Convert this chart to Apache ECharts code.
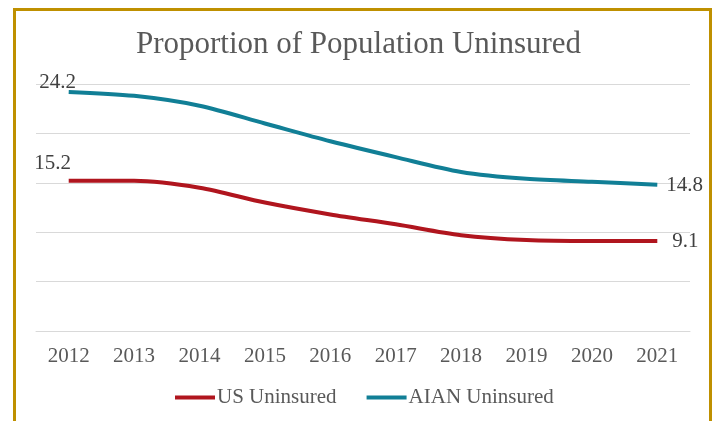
<!DOCTYPE html>
<html><head><meta charset="utf-8">
<script src="https://cdn.jsdelivr.net/npm/echarts@6/dist/echarts.min.js"></script>
<style>
html,body{margin:0;padding:0;background:#fff;overflow:hidden;}
#chart{position:absolute;left:0;top:0;width:717px;height:421px;}
#frame{position:absolute;left:13px;top:8px;width:693px;height:440px;border:3px solid #BF9000;pointer-events:none;}
</style></head>
<body>
<div id="chart"></div>
<div id="frame"></div>
<script>
const years = ['2012','2013','2014','2015','2016','2017','2018','2019','2020','2021'];
const usUninsured = [15.2, 15.2, 14.5, 13.0, 11.8, 10.8, 9.7, 9.2, 9.1, 9.1];
const aianUninsured = [24.2, 23.8, 22.8, 21.0, 19.2, 17.6, 16.1, 15.4, 15.1, 14.8];
const titleText = 'Proportion of Population Uninsured';

const font = '"Liberation Serif","Times New Roman",serif';
function labeled(arr, firstOffset, lastOffset) {
  return arr.map((v, i) => {
    if (i === 0) return {value: v, label: {show: true, position: 'top', offset: firstOffset}};
    if (i === arr.length - 1) return {value: v, label: {show: true, position: 'right', distance: 8, offset: lastOffset}};
    return v;
  });
}
const chart = echarts.init(document.getElementById('chart'));
chart.setOption({
  animation: false,
  title: {text: titleText, left: 'center', top: 24,
    textStyle: {fontFamily: font, fontWeight: 'normal', fontSize: 31, color: '#595959'}},
  grid: {left: 36, right: 27, top: 84, bottom: 90},
  legend: {bottom: 8, left: 170, itemWidth: 40, itemHeight: 4, itemGap: 30, icon: 'rect',
    textStyle: {fontFamily: font, fontSize: 21, color: '#595959', padding: [0,0,0,-3]},
    data: ['US Uninsured', 'AIAN Uninsured']},
  xAxis: {type: 'category', data: years, boundaryGap: true,
    axisLine: {show: true, lineStyle: {color: '#D9D9D9'}}, axisTick: {show: false},
    axisLabel: {fontFamily: font, fontSize: 21, color: '#595959', margin: 15}},
  yAxis: {type: 'value', min: 0, max: 25, interval: 5,
    axisLabel: {show: false}, axisLine: {show: false}, axisTick: {show: false},
    splitLine: {lineStyle: {color: '#D9D9D9', width: 1}}},
  series: [
    {name: 'US Uninsured', type: 'line', smooth: 0.3, symbol: 'circle', symbolSize: 0, showSymbol: true,
      data: labeled(usUninsured, [-16, -2], [7, 0]),
      lineStyle: {width: 4, color: '#B0151E'}, itemStyle: {color: '#B0151E'},
      label: {fontFamily: font, fontSize: 21, color: '#404040'}},
    {name: 'AIAN Uninsured', type: 'line', smooth: 0.3, symbol: 'circle', symbolSize: 0, showSymbol: true,
      data: labeled(aianUninsured, [-11, 6], [1, 1]),
      lineStyle: {width: 4, color: '#117F96'}, itemStyle: {color: '#117F96'},
      label: {fontFamily: font, fontSize: 21, color: '#404040'}}
  ]
});
</script>
</body></html>
